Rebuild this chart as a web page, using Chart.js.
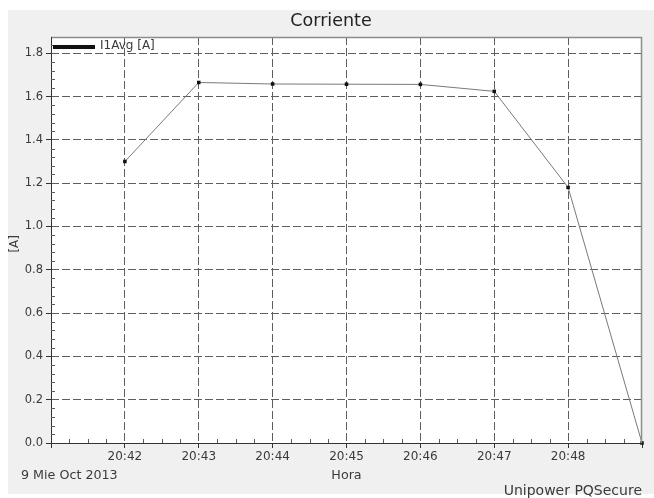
<!DOCTYPE html>
<html>
<head>
<meta charset="utf-8">
<title>Corriente</title>
<script src="https://cdn.jsdelivr.net/npm/chart.js@4.4.1/dist/chart.umd.min.js"></script>
<style>
  html, body { margin: 0; padding: 0; background: #ffffff; }
  #wrap { width: 654px; height: 498px; position: relative; }
</style>
</head>
<body>
<div id="wrap"><canvas id="c" width="654" height="498"></canvas></div>
<script>
// Minute samples of the phase-1 average current
const times = ["20:42", "20:43", "20:44", "20:45", "20:46", "20:47", "20:48", "20:49"];
const current = [1.30, 1.665, 1.658, 1.657, 1.656, 1.624, 1.18, 0.0];
const yTicks = [0.0, 0.2, 0.4, 0.6, 0.8, 1.0, 1.2, 1.4, 1.6, 1.8];
const xTickLabels = ["20:42", "20:43", "20:44", "20:45", "20:46", "20:47", "20:48"];

const seriesLabel = "I1Avg [A]";
const titleText = "Corriente";
const dateText = "9 Mie Oct 2013";
const xTitle = "Hora";
const yTitle = "[A]";
const footer = "Unipower PQSecure";

const toMin = s => { const p = s.split(":"); return +p[0] * 60 + +p[1]; };
const fmt = m => Math.floor(m / 60) + ":" + String(m % 60).padStart(2, "0");
const xMin = toMin("20:41"), xMax = toMin("20:49");
const yMax = 1.875;

const FONT = "'DejaVu Sans', Verdana, sans-serif";
const GRID = "#5e5e5e";
const TEXT = "#3a3a3a";

// Panel background, frame, minor ticks, legend and free texts
const decor = {
  id: "decor",
  beforeDraw(chart) {
    const ctx = chart.ctx;
    const a = chart.chartArea;
    ctx.save();
    ctx.fillStyle = "#ffffff";
    ctx.fillRect(0, 0, chart.width, chart.height);
    ctx.fillStyle = "#f0f0f0";
    ctx.fillRect(8, 10, chart.width - 8, 484);
    ctx.fillStyle = "#ffffff";
    ctx.fillRect(a.left, a.top, a.right - a.left, a.bottom - a.top);
    ctx.restore();
  },
  afterDraw(chart) {
    const ctx = chart.ctx;
    const a = chart.chartArea;
    const xs = chart.scales.x, ys = chart.scales.y;
    ctx.save();
    // frame: top and right in gray
    ctx.strokeStyle = "#8c8c8c";
    ctx.lineWidth = 1.5;
    ctx.beginPath();
    ctx.moveTo(a.left, a.top + 0.5);
    ctx.lineTo(a.right - 0.5, a.top + 0.5);
    ctx.lineTo(a.right - 0.5, a.bottom);
    ctx.stroke();
    // axis lines
    ctx.strokeStyle = "#333333";
    ctx.lineWidth = 1;
    ctx.beginPath();
    ctx.moveTo(a.left + 0.5, a.top);
    ctx.lineTo(a.left + 0.5, a.bottom + 0.5);
    ctx.lineTo(a.right, a.bottom + 0.5);
    ctx.stroke();
    // minor ticks (inside the plot)
    ctx.strokeStyle = "#5a5a5a";
    ctx.beginPath();
    for (let v = 0; v <= yMax + 1e-9; v += 0.04) {
      if (Math.abs(v / 0.2 - Math.round(v / 0.2)) < 1e-6) continue;
      const py = Math.round(ys.getPixelForValue(v)) + 0.5;
      ctx.moveTo(a.left, py);
      ctx.lineTo(a.left + 4, py);
    }
    for (let m = xMin; m < xMax; m++) {
      for (let k = 1; k < 4; k++) {
        const px = Math.round(xs.getPixelForValue(m + k / 4)) + 0.5;
        ctx.moveTo(px, a.bottom);
        ctx.lineTo(px, a.bottom - 4);
      }
    }
    ctx.stroke();
    // legend
    ctx.strokeStyle = "#111111";
    ctx.lineWidth = 4;
    ctx.beginPath();
    ctx.moveTo(a.left + 2, a.top + 10);
    ctx.lineTo(a.left + 44, a.top + 10);
    ctx.stroke();
    ctx.fillStyle = TEXT;
    ctx.font = "12px " + FONT;
    ctx.textBaseline = "middle";
    ctx.textAlign = "left";
    ctx.fillText(chart.data.datasets[0].label, a.left + 49, a.top + 9);
    // title
    ctx.fillStyle = "#222222";
    ctx.font = "17.5px " + FONT;
    ctx.textAlign = "center";
    ctx.fillText(titleText, 331, 21);
    // bottom texts
    ctx.font = "12.7px " + FONT;
    ctx.fillStyle = TEXT;
    ctx.textAlign = "left";
    ctx.fillText(dateText, 21, 476);
    ctx.textAlign = "center";
    ctx.fillText(xTitle, xs.getPixelForValue(toMin("20:45")), 476);
    ctx.font = "14px " + FONT;
    ctx.textAlign = "right";
    ctx.fillText(footer, a.right, 491);
    // y title
    ctx.font = "12px " + FONT;
    ctx.translate(15, ys.getPixelForValue(0.92));
    ctx.rotate(-Math.PI / 2);
    ctx.textAlign = "center";
    ctx.fillText(yTitle, 0, 0);
    ctx.restore();
  }
};

new Chart(document.getElementById("c"), {
  type: "line",
  data: {
    datasets: [{
      label: seriesLabel,
      data: times.map((t, i) => ({ x: toMin(t), y: current[i] })),
      borderColor: "#7a7a7a",
      borderWidth: 1,
      pointRadius: 2.5,
      pointStyle: "rect",
      pointBackgroundColor: "#111111",
      pointBorderColor: "#111111",
      pointBorderWidth: 0,
      tension: 0,
      clip: false
    }]
  },
  options: {
    responsive: false,
    animation: false,
    events: [],
    layout: { padding: { left: 0, top: 37, right: 12, bottom: 0 } },
    plugins: { legend: { display: false }, title: { display: false }, tooltip: { enabled: false } },
    scales: {
      x: {
        type: "linear",
        min: xMin,
        max: xMax,
        afterFit(s) { s.height = 55; },
        afterBuildTicks(s) {
          const t = [];
          for (let m = xMin; m <= xMax; m++) t.push({ value: m });
          s.ticks = t;
        },
        ticks: {
          autoSkip: false,
          maxRotation: 0,
          padding: 2,
          color: TEXT,
          font: { family: FONT, size: 12 },
          callback: v => xTickLabels.includes(fmt(v)) ? fmt(v) : ""
        },
        grid: {
          color: ctx => (ctx.tick && (ctx.tick.value === xMin || ctx.tick.value === xMax)) ? "rgba(0,0,0,0)" : GRID,
          lineWidth: 1,
          tickLength: 5,
          tickColor: "#333333",
          drawTicks: true
        },
        border: { display: false, dash: [8, 3] }
      },
      y: {
        type: "linear",
        min: 0,
        max: yMax,
        afterFit(s) { s.width = 51; },
        afterBuildTicks(s) { s.ticks = yTicks.map(v => ({ value: v })); },
        ticks: {
          padding: 3,
          color: TEXT,
          font: { family: FONT, size: 11.5 },
          callback: v => Number(v).toFixed(1)
        },
        grid: {
          color: ctx => (ctx.tick && ctx.tick.value === 0) ? "rgba(0,0,0,0)" : GRID,
          lineWidth: 1,
          tickLength: 5,
          tickColor: "#333333"
        },
        border: { display: false, dash: [8, 3] }
      }
    }
  },
  plugins: [decor]
});
</script>
</body>
</html>
